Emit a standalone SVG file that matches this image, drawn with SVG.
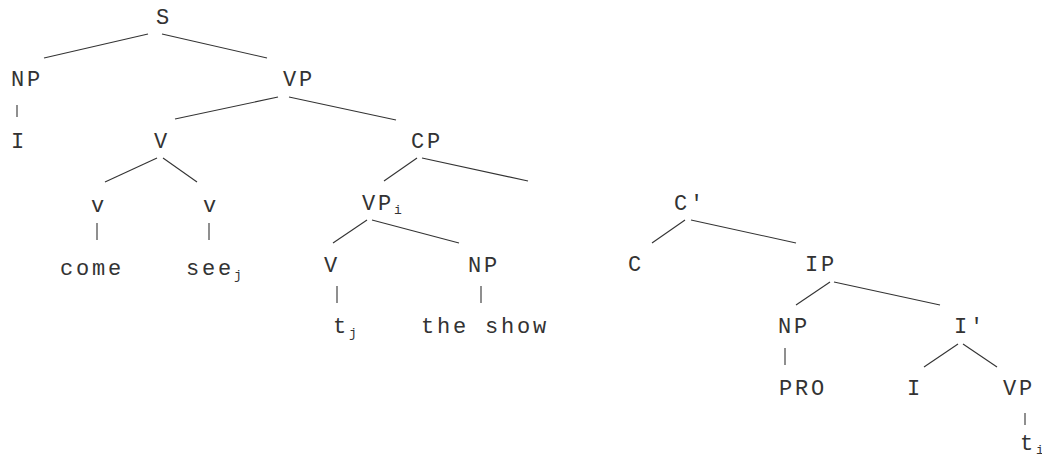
<svg xmlns="http://www.w3.org/2000/svg" width="1042" height="457" viewBox="0 0 1042 457">
<style>
text{font-family:"Liberation Mono","DejaVu Sans Mono",monospace;font-size:22px;letter-spacing:2.8px;fill:#333}
.sub{font-size:13px;letter-spacing:0}
#connectors line{stroke:#333;stroke-width:1.1}
</style>
<rect width="1042" height="457" fill="#fff"/>
<g id="connectors">
<line x1="148" y1="34" x2="44" y2="58"/>
<line x1="162" y1="34" x2="267" y2="58"/>
<line x1="17" y1="105" x2="17" y2="117"/>
<line x1="278" y1="97" x2="175" y2="119"/>
<line x1="289" y1="97" x2="396" y2="120"/>
<line x1="157" y1="158" x2="105" y2="182"/>
<line x1="163" y1="158" x2="197" y2="182"/>
<line x1="97" y1="223" x2="97" y2="240"/>
<line x1="209" y1="223" x2="209" y2="240"/>
<line x1="417" y1="158" x2="384" y2="181"/>
<line x1="422" y1="158" x2="528" y2="181"/>
<line x1="367" y1="220" x2="333" y2="243"/>
<line x1="372" y1="220" x2="459" y2="243"/>
<line x1="337" y1="286" x2="337" y2="303"/>
<line x1="481" y1="286" x2="481" y2="303"/>
<line x1="685" y1="220" x2="652" y2="243"/>
<line x1="691" y1="220" x2="796" y2="243"/>
<line x1="830" y1="282" x2="796" y2="305"/>
<line x1="834" y1="282" x2="940" y2="305"/>
<line x1="785" y1="348" x2="785" y2="365"/>
<line x1="958" y1="344" x2="924" y2="367"/>
<line x1="963" y1="344" x2="997" y2="367"/>
<line x1="1025" y1="413" x2="1025" y2="425"/>
</g>
<g id="S"><text x="156" y="24">S</text></g>
<g id="NP1"><text x="11" y="86">NP</text></g>
<g id="I1"><text x="11" y="148">I</text></g>
<g id="VP1"><text x="283" y="86">VP</text></g>
<g id="V1"><text x="154" y="148">V</text></g>
<g id="v1"><text x="91" y="212">v</text></g>
<g id="v2"><text x="203" y="212">v</text></g>
<g id="come"><text x="60" y="275">come</text></g>
<g id="see"><text x="186" y="275">see<tspan class="sub" dy="4">j</tspan></text></g>
<g id="CP"><text x="411" y="148">CP</text></g>
<g id="VPi"><text x="362" y="210">VP<tspan class="sub" dy="4">i</tspan></text></g>
<g id="V2"><text x="324" y="272">V</text></g>
<g id="tj"><text x="333" y="333">t<tspan class="sub" dy="4">j</tspan></text></g>
<g id="NP2"><text x="468" y="272">NP</text></g>
<g id="theshow"><text x="421" y="333">the show</text></g>
<g id="Cbar"><text x="674" y="210">C'</text></g>
<g id="C"><text x="628" y="271">C</text></g>
<g id="IP"><text x="805" y="271">IP</text></g>
<g id="NP3"><text x="778" y="333">NP</text></g>
<g id="PRO"><text x="779" y="395">PRO</text></g>
<g id="Ibar"><text x="954" y="333">I'</text></g>
<g id="I2"><text x="907" y="395">I</text></g>
<g id="VP3"><text x="1003" y="395">VP</text></g>
<g id="ti"><text x="1020" y="450">t<tspan class="sub" dy="4">i</tspan></text></g>
</svg>
